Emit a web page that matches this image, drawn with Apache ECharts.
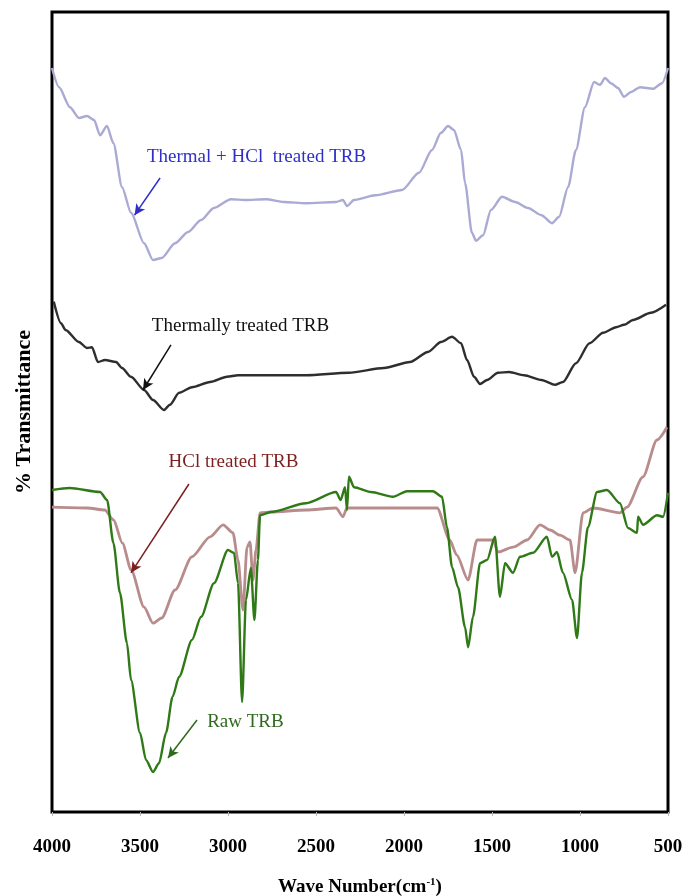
<!DOCTYPE html>
<html>
<head>
<meta charset="utf-8">
<script src="https://cdn.jsdelivr.net/npm/echarts@6/dist/echarts.min.js"></script>
<style>
  html, body { margin: 0; padding: 0; background: #fff; }
  #main { width: 684px; height: 896px; }
</style>
</head>
<body>
<div id="main"></div>
<script>
// wave numbers (cm-1) and % transmittance (offset traces, no y scale shown)
var thermalHclWn = [4000,3960,3898,3847,3801,3761,3727,3688,3651,3602,3551,3477,3426,3377,3301,3227,3153,3080,2983,2903,2784,2682,2557,2386,2347,2324,2284,2162,2011,1915,1841,1790,1750,1716,1676,1653,1614,1591,1551,1506,1443,1369,1295,1219,1159,1119,1068,1023,972,920,886,858,824,784,750,710,659,585,534,500];
var thermalHclT = [93,90.6,88.1,86.75,87,86.5,84.6,85.75,83.6,78.1,74.9,71.1,69,69.25,71.1,72.5,74,75.5,76.6,76.5,76.6,76.25,76.1,76.25,76.5,75.75,76.5,77.1,77.75,79.9,82.75,84.9,85.75,85.25,82.75,78.6,72.4,71.4,72.1,75.25,76.9,76.25,75.5,74.6,73.6,74.4,78.1,82.75,88.1,91.25,90.9,91.75,91.1,90.5,89.4,90,90.6,90.4,91.1,93];

var thermalWn = [3990,3949,3923,3847,3801,3773,3739,3699,3636,3602,3551,3477,3426,3364,3330,3278,3205,3102,3006,2943,2807,2557,2313,2114,1966,1864,1790,1727,1676,1642,1602,1568,1528,1466,1403,1318,1219,1142,1097,1023,946,869,795,750,699,597,511];
var thermalT = [63.8,61.1,60.25,58.75,58,58.1,56.25,56.5,56.25,55.5,54.4,52.75,51.5,50.25,50.9,52.4,53.1,53.75,54.4,54.6,54.6,54.6,54.9,55.5,56.25,57.5,58.75,59.4,58.6,56.5,54.4,53.5,54,54.9,55,54.6,54,53.4,53.75,56.1,58.6,59.9,60.6,60.9,61.5,62.4,63.4];

var hclWn = [4000,3800,3700,3650,3600,3550,3477,3426,3377,3301,3205,3102,3028,2972,2943,2915,2892,2875,2858,2841,2818,2756,2557,2386,2347,2324,2188,1812,1740,1700,1636,1585,1494,1466,1381,1301,1227,1170,1114,1057,1028,983,926,773,733,642,563,506];
var hclT = [38.1,38,37.75,36.5,33.6,30.25,25.6,23.6,24.25,27.75,31.9,34.4,35.9,34.9,31.5,25.25,33.1,33.75,29,32.75,37.4,37.5,37.75,38,36.9,38,38,38,34,32.1,29,34,34,32.5,33.1,34,35.9,35.25,34.6,34,29.9,37.4,38,37.4,38.1,41.9,46.5,48.1];

var rawWn = [4000,3900,3727,3687,3651,3614,3574,3551,3500,3466,3426,3392,3352,3315,3278,3205,3153,3080,3000,2966,2943,2920,2898,2870,2850,2830,2818,2756,2557,2386,2360,2335,2324,2313,2284,2188,2063,1983,1835,1784,1756,1727,1693,1653,1636,1608,1568,1528,1483,1455,1426,1381,1341,1267,1188,1159,1131,1097,1045,1017,989,955,903,847,773,727,676,670,642,562,528,500];
var rawT = [40.25,40.5,40,39,33.6,27.4,21.1,16.5,9.9,6.5,5,6.1,9.9,14.4,16.9,21.5,24.4,28.6,32.75,32.4,28.6,13.75,26.5,30.5,24,31.5,37.1,37.5,38.6,40,39,40.6,37.75,41.9,40.6,40,39.4,40.1,40.1,39.4,35.6,30.6,28.1,23.1,20.6,24.4,31.1,31.5,34.4,26.9,31.1,29.9,31.9,32.4,34.4,31.9,32.5,29.9,26.5,21.75,29.9,35.6,40,40.25,38.6,35.5,34.9,36.9,35.9,37.1,36.9,39.9];

var xTicks = [4000, 3500, 3000, 2500, 2000, 1500, 1000, 500];

// label texts, their centres and arrows (data coords)
var labelTexts = ['Thermal + HCl  treated TRB', 'Thermally treated TRB', 'HCl treated TRB', 'Raw TRB'];
var labelPos = [[2838, 81.9], [2929, 60.7], [2969, 43.75], [2901, 11.25]];
var arrowFrom = [[3386, 79.25], [3324, 58.4], [3222, 41], [3176, 11.5]];
var arrowTo = [[3531, 74.6], [3483, 52.75], [3551, 29.9], [3341, 6.75]];

function zip(a, b) {
  var out = [];
  for (var i = 0; i < a.length; i++) out.push([a[i], b[i]]);
  return out;
}

var serif = 'Liberation Serif';

function trace(name, wn, t, color, width, idx, textColor) {
  return {
    name: name,
    type: 'line',
    data: zip(wn, t),
    showSymbol: false,
    symbol: 'none',
    smooth: 0.25,
    smoothMonotone: 'x',
    lineStyle: { color: color, width: width },
    animation: false,
    markLine: {
      silent: true,
      symbol: ['none', 'arrow'],
      symbolSize: [8, 11],
      label: { show: false },
      lineStyle: { color: textColor, width: 1.5, type: 'solid' },
      data: [[{ coord: arrowFrom[idx] }, { coord: arrowTo[idx] }]]
    },
    markPoint: {
      silent: true,
      symbol: 'circle',
      symbolSize: 1,
      itemStyle: { color: 'rgba(0,0,0,0)' },
      label: {
        show: true,
        position: 'inside',
        formatter: labelTexts[idx],
        color: textColor,
        fontFamily: serif,
        fontSize: 19
      },
      data: [{ coord: labelPos[idx] }]
    }
  };
}

var chart = echarts.init(document.getElementById('main'));
var option = {
  backgroundColor: '#fff',
  grid: {
    left: 52,
    right: 16,
    top: 12,
    bottom: 84,
    containLabel: false,
    outerBoundsMode: 'none',
    show: true,
    borderColor: '#000',
    borderWidth: 3,
    backgroundColor: '#fff'
  },
  xAxis: {
    type: 'value',
    inverse: true,
    min: 500,
    max: 4000,
    interval: 500,
    name: 'Wave Number(cm{sup|-1})',
    nameLocation: 'middle',
    nameGap: 65,
    nameTextStyle: {
      fontFamily: serif,
      fontWeight: 'bold',
      fontSize: 19,
      color: '#000',
      rich: {
        sup: { fontFamily: serif, fontWeight: 'bold', fontSize: 11, verticalAlign: 'top', padding: [0, 0, 10, 0] }
      }
    },
    axisLine: { show: false },
    axisTick: { show: true, length: 4, lineStyle: { color: '#bbb' } },
    axisLabel: {
      margin: 26,
      fontFamily: serif,
      fontWeight: 'bold',
      fontSize: 19,
      color: '#000',
      formatter: function (v) { return xTicks.indexOf(v) >= 0 ? String(v) : ''; }
    },
    splitLine: { show: false }
  },
  yAxis: {
    type: 'value',
    min: 0,
    max: 100,
    name: '% Transmittance',
    nameLocation: 'middle',
    nameRotate: 90,
    nameGap: 17,
    nameTextStyle: { fontFamily: serif, fontWeight: 'bold', fontSize: 22, color: '#000' },
    axisLine: { show: false },
    axisTick: { show: false },
    axisLabel: { show: false },
    splitLine: { show: false }
  },
  series: [
    trace('Thermal + HCl treated TRB', thermalHclWn, thermalHclT, '#aaaad4', 2.4, 0, '#2f2fc8'),
    trace('Thermally treated TRB', thermalWn, thermalT, '#2e2e2e', 2.4, 1, '#111111'),
    trace('HCl treated TRB', hclWn, hclT, '#b88c8c', 2.8, 2, '#7d1f1f'),
    trace('Raw TRB', rawWn, rawT, '#2f7a16', 2.4, 3, '#2f6a1e')
  ]
};
chart.setOption(option);
</script>
</body>
</html>
